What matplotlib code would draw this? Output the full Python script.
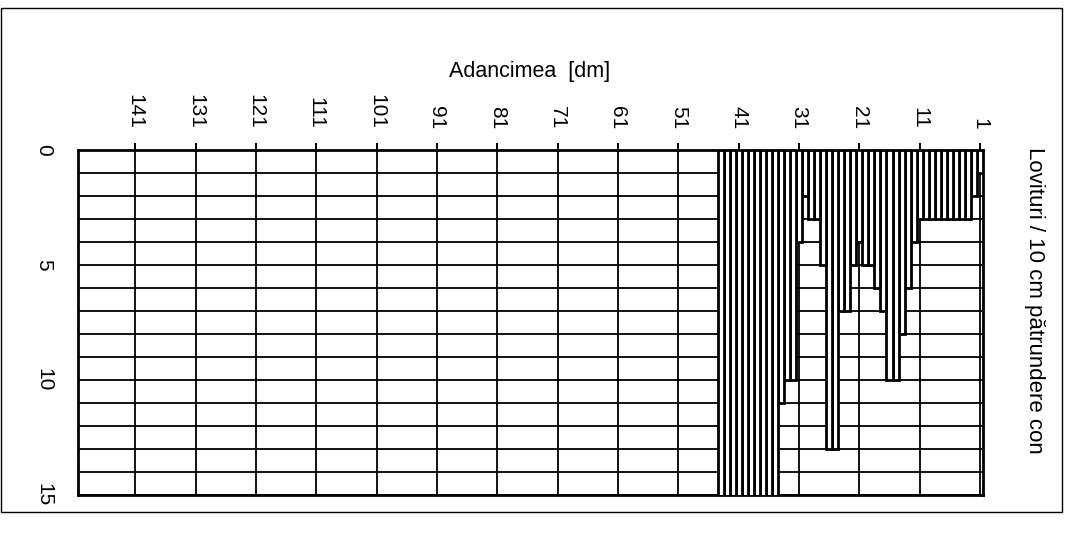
import matplotlib
matplotlib.use("Agg")
import matplotlib.pyplot as plt
from matplotlib.patches import Rectangle
from matplotlib.ticker import MultipleLocator


# depth steps (dm) and blows per 10 cm cone penetration
depth = list(range(1, 45))
lovituri = [
    1, 2, 3, 3, 3, 3, 3, 3, 3, 3,
    3, 4, 6, 8, 10, 10, 7, 6, 5, 5,
    4, 5, 7, 7, 13, 13, 5, 3, 3, 2,
    4, 10, 10, 11,
    # off scale (> 15)
    16, 16, 16, 16, 16, 16, 16, 16, 16, 16,
]
n_categories = 150
depth_ticks = list(range(1, 142, 10))
blow_ticks = [0, 5, 10, 15]

X_LABEL = "Adancimea  [dm]"
Y_LABEL = "Lovituri / 10 cm p\u0103trundere con"

W, H = 1070, 542


def main():
    plt.rcParams["font.family"] = ["Liberation Sans", "DejaVu Sans"]

    fig = plt.figure(figsize=(W / 100, H / 100), dpi=100)
    ax = fig.add_axes([78 / W, 1 - 495 / H, (983 - 78) / W, (495 - 150) / H])

    ax.bar(depth, lovituri, width=1.0, color="white", edgecolor="black",
           linewidth=2.0, zorder=3)

    ax.set_xlim(n_categories + 0.5, 0.5)
    ax.set_ylim(15, 0)

    # top category axis
    ax.xaxis.tick_top()
    ax.set_xticks(depth_ticks)
    ax.set_xticklabels([str(t) for t in depth_ticks], rotation=-90, fontsize=15)
    ax.tick_params(axis="x", direction="out", length=5, width=1.4, pad=10)

    # left value axis
    ax.set_yticks(blow_ticks)
    ax.set_yticklabels([str(t) for t in blow_ticks], rotation=-90,
                       fontsize=15, va="center")
    ax.yaxis.set_minor_locator(MultipleLocator(1))
    ax.tick_params(axis="y", which="both", length=0, pad=18)

    ax.grid(True, axis="x", color="black", linewidth=1.3)
    ax.grid(True, axis="y", which="both", color="black", linewidth=1.3)
    ax.set_axisbelow(True)

    for s in ax.spines.values():
        s.set_linewidth(2.0)
        s.set_color("black")

    fig.text(530 / W, 1 - 72 / H, X_LABEL, fontsize=15.5, ha="center", va="center")
    fig.text(1035 / W, 1 - 300 / H, Y_LABEL, fontsize=16, rotation=-90,
             ha="center", va="center")

    # outer chart border
    fig.patches.append(Rectangle((1 / W, 1 - 512 / H), 1061 / W, 504 / H,
                                 transform=fig.transFigure, fill=False,
                                 edgecolor="black", linewidth=1.0))

    fig.savefig("out.png", dpi=100)
    plt.close(fig)


if __name__ == "__main__":
    main()
